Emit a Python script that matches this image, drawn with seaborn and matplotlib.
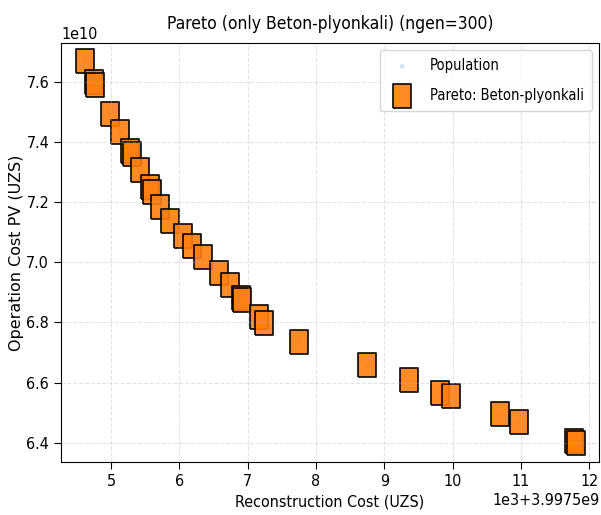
import matplotlib
matplotlib.use("Agg")
import matplotlib.pyplot as plt
import seaborn as sns
import numpy as np
import pandas as pd

# Pareto-front points: reconstruction cost (x1e3 above 3.9975e9) and PV (x1e10)
recon_k = [4.625, 4.75, 4.76, 4.99, 5.136, 5.28, 5.31, 5.43, 5.57, 5.60,
           5.715, 5.857, 6.06, 6.19, 6.35, 6.58, 6.74, 6.91, 6.92, 7.16,
           7.245, 7.75, 8.75, 9.36, 9.82, 9.97, 10.69, 10.97, 11.78, 11.80]
pv_e10 = [7.668, 7.600, 7.590, 7.494, 7.432, 7.370, 7.360, 7.306, 7.250, 7.235,
          7.185, 7.137, 7.088, 7.055, 7.019, 6.963, 6.923, 6.880, 6.874, 6.818,
          6.797, 6.736, 6.657, 6.607, 6.565, 6.556, 6.495, 6.470, 6.405, 6.400]

title = "Pareto (only Beton-plyonkali) (ngen=300)"
xlabel = "Reconstruction Cost (UZS)"
ylabel = "Operation Cost PV (UZS)"

base_x = 3.9975e9
df = pd.DataFrame({
    "recon": base_x + np.array(recon_k) * 1e3,
    "pv": np.array(pv_e10) * 1e10,
})

plt.rcParams['font.family'] = ['DejaVu Sans Condensed', 'Liberation Sans Narrow', 'DejaVu Sans']
plt.rcParams['font.stretch'] = 'condensed'

fig, ax = plt.subplots(figsize=(6.01, 5.15), dpi=100)
fig.subplots_adjust(left=0.1015, right=0.997, top=0.9165, bottom=0.1035)

# rectangle marker (reference picture is squeezed horizontally)
rect = [(-0.73, -1), (0.73, -1), (0.73, 1), (-0.73, 1), (-0.73, -1)]

# population lies under the front
sns.scatterplot(data=df, x="recon", y="pv", ax=ax, s=12, color="tab:blue",
                alpha=0.2, edgecolor="none", label="Population")
sns.scatterplot(data=df, x="recon", y="pv", ax=ax, s=320, marker=rect,
                color="#ff7f0e", edgecolor="black", linewidth=1.3, alpha=0.9,
                label="Pareto: Beton-plyonkali")

ax.set_xlim(base_x + 4.268e3, base_x + 12.146e3)
ax.set_ylim(6.337e10, 7.729e10)
ax.ticklabel_format(axis="both", style="sci", scilimits=(0, 0))
ax.grid(True, linestyle="--", alpha=0.35)
ax.tick_params(labelsize=11.5, length=5)
ax.xaxis.get_offset_text().set_fontsize(11.5)
ax.yaxis.get_offset_text().set_fontsize(11.5)
ax.set_title(title, fontsize=12.5, pad=10)
ax.set_xlabel(xlabel, fontsize=11.5)
# rotated label is not narrowed in the reference
ax.set_ylabel(ylabel, fontsize=11.5, labelpad=2, family="DejaVu Sans",
              stretch="normal")
ax.legend(loc="upper right", fontsize=10.5, labelspacing=1.0, handletextpad=0.9,
          borderpad=0.55)

fig.savefig("out.png", dpi=100)
